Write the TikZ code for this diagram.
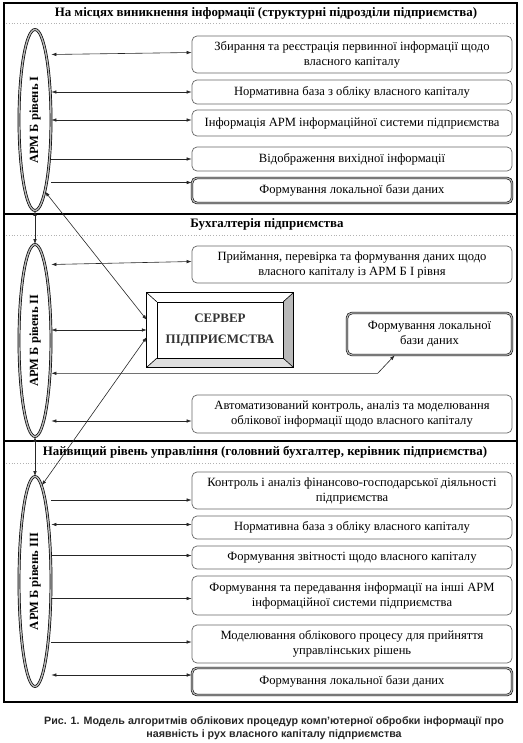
\documentclass[tikz,border=0pt]{standalone}
\usepackage{fontspec}
\setmainfont{Liberation Serif}
\newfontfamily\capfont{Liberation Sans}
\usetikzlibrary{arrows.meta,shapes.geometric}

\begin{document}
\begin{tikzpicture}[
  x=1pt,y=-1pt,
  arm/.style={ellipse,draw=black,double=gray!55,double distance=1.4pt,line width=0.7pt,inner sep=0pt,minimum width=32pt,font=\bfseries\fontsize{12.5}{14}\selectfont},
  infobox/.style={draw=black!60,line width=0.7pt,rounded corners=5pt,align=center,minimum width=320pt,inner sep=1pt,font=\fontsize{12.6}{15}\selectfont},
  dbbox/.style={infobox,draw=black,double=gray!55,double distance=1.2pt,line width=0.6pt},
  title/.style={font=\bfseries\fontsize{12.9}{14}\selectfont},
  server/.style={minimum width=146pt,minimum height=74pt,align=center,text=black!80,font=\bfseries\fontsize{13}{21}\selectfont},
  sep/.style={gray!60,dotted,line width=0.8pt},
  frame/.style={line width=2pt},
  arrow/.style={-{Latex[length=5pt,width=3.5pt]},line width=0.6pt,black!85},
  biarrow/.style={arrow,{Latex[length=5pt,width=3.5pt]}-{Latex[length=5pt,width=3.5pt]}}
]
\useasboundingbox (0,0) rectangle (522,743);

% frame and levels
\draw[frame] (4,3) rectangle (517,702);
\draw[frame] (4,214) -- (517,214);
\draw[frame] (4,441) -- (517,441);
\draw[sep] (6,23) -- (515,23);
\draw[sep] (6,235) -- (515,235);
\draw[sep] (6,463) -- (515,463);

\node[title] (t1) at (266,13) {На місцях виникнення інформації (структурні підрозділи підприємства)};
\node[title] (t2) at (267,224) {Бухгалтерія підприємства};
\node[title] (t3) at (265,452) {Найвищий рівень управління (головний бухгалтер, керівник підприємства)};

% workstations
\node[arm,minimum height=181pt] (arm1) at (35,120) {\rotatebox{90}{АРМ Б рівень І}};
\node[arm,minimum height=192pt] (arm2) at (35,340.5) {\rotatebox{90}{АРМ Б рівень ІІ}};
\node[arm,minimum height=210pt] (arm3) at (35,581.5) {\rotatebox{90}{АРМ Б рівень ІІІ}};

% level I
\node[infobox,minimum height=37pt] (b11) at (352,54.5) {Збирання та реєстрація первинної інформації щодо\\власного капіталу};
\node[infobox,minimum height=24pt] (b12) at (352,92) {Нормативна база з обліку власного капіталу};
\node[infobox,minimum height=26pt] (b13) at (352,123) {Інформація АРМ інформаційної системи підприємства};
\node[infobox,minimum height=24pt] (b14) at (352,159) {Відображення вихідної інформації};
\node[dbbox,minimum height=25pt] (b15) at (352,190.5) {Формування локальної бази даних};

% level II
\node[infobox,minimum height=37pt] (b21) at (352,264.5) {Приймання, перевірка та формування даних щодо\\власного капіталу із АРМ Б І рівня};
\node[server] (srv) at (220,330) {СЕРВЕР\\ПІДПРИЄМСТВА};
\node[dbbox,minimum width=165pt,minimum height=42pt] (ldb) at (429.5,334) {Формування локальної\\бази даних};
\node[infobox,minimum height=38pt] (b22) at (352,414) {Автоматизований контроль, аналіз та моделювання\\облікової інформації щодо власного капіталу};

% server bevel
\fill[gray!55] (srv.north east) -- ([xshift=-10pt,yshift=-9pt]srv.north east) -- ([xshift=-10pt,yshift=9pt]srv.south east) -- (srv.south east) -- cycle;
\fill[gray!25] (srv.south west) -- ([xshift=10pt,yshift=9pt]srv.south west) -- ([xshift=-10pt,yshift=9pt]srv.south east) -- (srv.south east) -- cycle;
\draw[line width=0.7pt] (srv.north west) rectangle (srv.south east);
\draw[line width=0.6pt] ([xshift=10pt,yshift=-9pt]srv.north west) rectangle ([xshift=-10pt,yshift=9pt]srv.south east);
\foreach \c/\dx/\dy in {north west/10/-9,north east/-10/-9,south west/10/9,south east/-10/9}
  \draw[line width=0.6pt] (srv.\c) -- ([xshift=\dx pt,yshift=\dy pt]srv.\c);

% level III
\node[infobox,minimum height=37pt] (b31) at (352,490.5) {Контроль і аналіз фінансово-господарської діяльності\\підприємства};
\node[infobox,minimum height=23pt] (b32) at (352,527.5) {Нормативна база з обліку власного капіталу};
\node[infobox,minimum height=23pt] (b33) at (352,557.5) {Формування звітності щодо власного капіталу};
\node[infobox,minimum height=39pt] (b34) at (352,595.5) {Формування та передавання інформації на інші АРМ\\інформаційної системи підприємства};
\node[infobox,minimum height=38pt] (b35) at (352,644) {Моделювання облікового процесу для прийняття\\управлінських рішень};
\node[dbbox,minimum height=27pt] (b36) at (352,681.5) {Формування локальної бази даних};

\node[font=\capfont\bfseries\fontsize{10.7}{12.5}\selectfont,text=black!85,align=center] (cap) at (274,728) {Рис. 1. Модель алгоритмів облікових процедур комп’ютерної обробки інформації про\\наявність і рух власного капіталу підприємства};

% connectors level I
\draw[biarrow] (b11.west -| arm1.east) -- ([yshift=2pt]b11.west);
\draw[biarrow] (b12.west -| arm1.east) -- (b12.west);
\draw[biarrow] ([yshift=3pt]b13.west -| arm1.east) -- ([yshift=3pt]b13.west);
\draw[arrow] (b14.west -| arm1.east) -- (b14.west);
\draw[arrow] ([yshift=8pt]b15.west -| arm1.east) -- ([yshift=8pt]b15.west);

% connectors level II
\draw[biarrow] (arm1.south) -- (arm2.north);
\draw[biarrow] (arm1.-82) -- ([yshift=10pt]srv.west);
\draw[biarrow] (b21.west -| arm2.east) -- ([yshift=3pt]b21.west);
\draw[biarrow] (srv.west -| arm2.east) -- (srv.west);
\draw[biarrow] (arm3.86) -- ([yshift=-7pt]srv.west);
\draw[biarrow] ([xshift=48pt]ldb.south west) -- ++(-17,18) coordinate (bend) -- (bend -| arm2.east);
\draw[biarrow] ([yshift=-7pt]b22.west -| arm2.east) -- ([yshift=-7pt]b22.west);

% connectors level III
\draw[biarrow] (arm2.south) -- (arm3.north);
\draw[arrow] ([yshift=-9.5pt]b31.west -| arm3.east) -- ([yshift=-9.5pt]b31.west);
\draw[biarrow] ([yshift=3pt]b32.west -| arm3.east) -- ([yshift=3pt]b32.west);
\draw[arrow] ([yshift=2pt]b33.west -| arm3.east) -- ([yshift=2pt]b33.west);
\draw[arrow] ([yshift=-3pt]b34.west -| arm3.east) -- ([yshift=-3pt]b34.west);
\draw[arrow] ([yshift=2pt]b35.west -| arm3.east) -- ([yshift=2pt]b35.west);
\draw[biarrow] ([yshift=6.5pt]b36.west -| arm3.east) -- ([yshift=6.5pt]b36.west);
\end{tikzpicture}
\end{document}
